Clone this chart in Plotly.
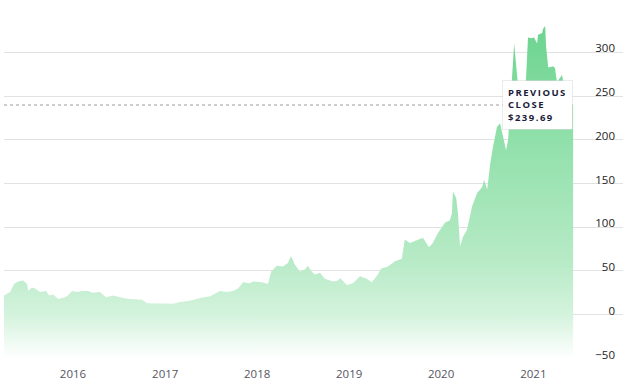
import plotly.graph_objects as go

dates = [
    "2015-04-02", "2015-04-26", "2015-05-12", "2015-05-28", "2015-06-17", "2015-07-03",
    "2015-07-07", "2015-07-22", "2015-08-03", "2015-08-23", "2015-09-16", "2015-09-28",
    "2015-10-14", "2015-11-03", "2015-11-30", "2015-12-12", "2015-12-28", "2016-01-17",
    "2016-02-05", "2016-03-01", "2016-03-20", "2016-04-17", "2016-05-11", "2016-06-08",
    "2016-07-06", "2016-07-18", "2016-08-14", "2016-10-01", "2016-10-21", "2016-12-11",
    "2017-02-01", "2017-03-01", "2017-04-09", "2017-05-19", "2017-06-28", "2017-08-06",
    "2017-09-03", "2017-09-27", "2017-10-17", "2017-11-06", "2017-12-03", "2017-12-15",
    "2018-01-20", "2018-02-13", "2018-02-25", "2018-03-20", "2018-04-13", "2018-05-03",
    "2018-05-15", "2018-05-31", "2018-06-20", "2018-07-10", "2018-07-21", "2018-08-06",
    "2018-08-18", "2018-09-07", "2018-09-27", "2018-10-29", "2018-11-18", "2018-11-26",
    "2018-12-23", "2019-01-16", "2019-02-13", "2019-03-12", "2019-04-01", "2019-04-25",
    "2019-05-07", "2019-06-04", "2019-07-02", "2019-07-29", "2019-08-10", "2019-08-30",
    "2019-09-27", "2019-10-21", "2019-11-14", "2019-11-29", "2019-12-19", "2020-01-16",
    "2020-02-05", "2020-02-13", "2020-02-17", "2020-03-01", "2020-03-08", "2020-03-16",
    "2020-03-28", "2020-04-13", "2020-05-03", "2020-05-23", "2020-06-12", "2020-06-20",
    "2020-07-02", "2020-07-14", "2020-07-25", "2020-08-10", "2020-08-22", "2020-09-03",
    "2020-09-15", "2020-09-23", "2020-10-05", "2020-10-17", "2020-10-29", "2020-11-10",
    "2020-11-26", "2020-12-11", "2020-12-23", "2021-01-04", "2021-01-16", "2021-01-20",
    "2021-02-05", "2021-02-09", "2021-02-17", "2021-02-21", "2021-03-01", "2021-03-08",
    "2021-03-20", "2021-03-28", "2021-04-05", "2021-04-25", "2021-05-07", "2021-05-19",
    "2021-06-08",
]
prices = [
    22, 26, 35, 38, 39, 35,
    27, 31, 30, 26, 27, 22,
    23, 18, 20, 22, 27, 26,
    27, 27, 25, 26, 20, 22,
    20, 19, 18, 17, 13, 12.5,
    12.5, 14.5, 16, 19, 21, 27,
    26, 27, 30, 37, 36, 38,
    37, 35, 49, 56, 55, 59,
    67, 57, 49, 52, 56, 49,
    46, 48, 41, 38, 39, 42,
    34, 36, 44, 41, 37, 46,
    52.5, 55, 61, 64, 86, 82,
    85, 88, 77, 82, 93, 105,
    108, 116, 141, 133, 116, 78,
    89, 97, 124, 139, 146, 154,
    143, 173, 192, 215, 219, 202,
    188, 200, 260, 310, 272, 235,
    230, 317, 316, 317, 310, 320,
    322, 327, 330, 306, 283, 283,
    284, 282, 266, 274, 255, 245,
    240,
]
previous_close = 239.69
x_start = "2015-04-02"
x_end = "2021-12-23"
y_ticks = [-50, 0, 50, 100, 150, 200, 250, 300, 350]
y_labels = ["−50", "0", "50", "100", "150", "200", "250", "300", ""]
x_ticks = ["2016-01-01", "2017-01-01", "2018-01-01", "2019-01-01", "2020-01-01", "2021-01-01"]
x_labels = ["2016", "2017", "2018", "2019", "2020", "2021"]

fig = go.Figure()
# baseline for the area fill
fig.add_trace(go.Scatter(
    x=[dates[0], dates[-1]], y=[-50, -50], mode="lines",
    line=dict(width=0, color="rgba(0,0,0,0)"), hoverinfo="skip", showlegend=False,
))
fig.add_trace(go.Scatter(
    x=dates, y=prices, mode="lines", fill="tonexty",
    line=dict(width=0, color="rgba(110,214,146,0)"),
    fillgradient=dict(
        type="vertical", start=-50, stop=330,
        colorscale=[[0, "#ffffff"], [0.13, "#d4f3dd"], [0.3, "#b6eac5"],
                    [0.66, "#90e0aa"], [1, "#6cd48f"]],
    ),
    showlegend=False,
))

fig.add_shape(
    type="line", xref="x", x0=x_start, x1=dates[-1], yref="y",
    y0=previous_close, y1=previous_close,
    line=dict(color="#9a9a9a", width=1, dash="3px,3px"),
)

sp = "letter-spacing:1.5px"
fig.add_annotation(
    x=dates[-1], y=previous_close, xref="x", yref="y",
    xanchor="right", yanchor="middle", showarrow=False, align="left",
    text=(f"<span style='{sp}'><b>PREVIOUS</b></span><br>"
          f"<span style='{sp}'><b>CLOSE</b></span><br>"
          f"<span style='{sp}'><b>${previous_close:.2f}</b></span>"),
    font=dict(family="Open Sans", size=9.5, color="#1b1b3a"),
    bgcolor="#ffffff", bordercolor="rgba(0,0,0,0.08)", borderwidth=1, borderpad=5,
)

fig.update_layout(
    width=630, height=388,
    margin=dict(l=4, r=7, t=8, b=29),
    paper_bgcolor="white", plot_bgcolor="white",
    showlegend=False,
    xaxis=dict(
        type="date", range=[x_start, x_end],
        tickvals=x_ticks, ticktext=x_labels, showgrid=False, zeroline=False,
        showline=False, ticks="", ticklabelstandoff=6,
        tickfont=dict(family="Open Sans", size=11.5, color="#555563"),
    ),
    yaxis=dict(
        range=[-50.6, 350.6], side="right", tickvals=y_ticks, ticktext=y_labels,
        ticklabelposition="inside", ticklabelshift=-4, ticklabelstandoff=5,
        ticklabeloverflow="allow",
        showgrid=True, gridcolor="#e2e2e2", gridwidth=1, zeroline=False,
        showline=False, ticks="",
        tickfont=dict(family="Open Sans", size=11.5, color="#222222"),
    ),
)

fig.write_html("out.html")
